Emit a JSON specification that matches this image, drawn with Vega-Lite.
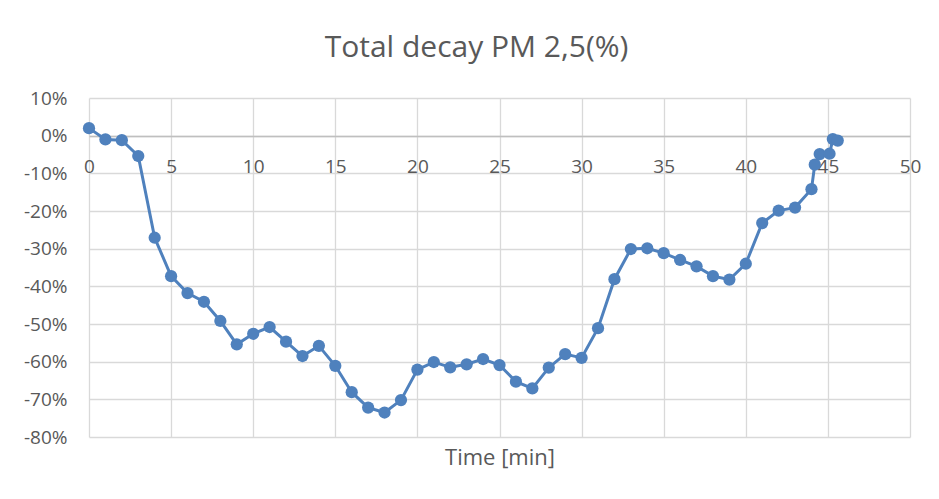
{
  "$schema": "https://vega.github.io/schema/vega-lite/v6.json",
  "width": 821,
  "height": 339,
  "autosize": {"type": "none"},
  "padding": {"left": 89, "top": 98, "right": 29, "bottom": 62},
  "background": "white",
  "title": {
    "text": "Total decay PM 2,5(%)",
    "font": "Open Sans",
    "fontSize": 30,
    "fontWeight": "normal",
    "color": "#595959",
    "anchor": "middle",
    "dx": -23,
    "offset": 26
  },
  "config": {
    "view": {"stroke": null},
    "font": "Open Sans"
  },
  "data": {
    "values": [
      {"t": 0, "v": 2.0}, {"t": 1, "v": -1.0}, {"t": 2, "v": -1.2}, {"t": 3, "v": -5.4},
      {"t": 4, "v": -27.1}, {"t": 5, "v": -37.3}, {"t": 6, "v": -41.8}, {"t": 7, "v": -44.1},
      {"t": 8, "v": -49.2}, {"t": 9, "v": -55.4}, {"t": 10, "v": -52.6}, {"t": 11, "v": -50.8},
      {"t": 12, "v": -54.7}, {"t": 13, "v": -58.5}, {"t": 14, "v": -55.8}, {"t": 15, "v": -61.1},
      {"t": 16, "v": -68.1}, {"t": 17, "v": -72.2}, {"t": 18, "v": -73.5}, {"t": 19, "v": -70.2},
      {"t": 20, "v": -62.1}, {"t": 21, "v": -60.1}, {"t": 22, "v": -61.5}, {"t": 23, "v": -60.7},
      {"t": 24, "v": -59.3}, {"t": 25, "v": -60.9}, {"t": 26, "v": -65.3}, {"t": 27, "v": -67.1},
      {"t": 28, "v": -61.6}, {"t": 29, "v": -58.0}, {"t": 30, "v": -59.0}, {"t": 31, "v": -51.1},
      {"t": 32, "v": -38.1}, {"t": 33, "v": -30.1}, {"t": 34, "v": -29.9}, {"t": 35, "v": -31.2},
      {"t": 36, "v": -33.0}, {"t": 37, "v": -34.7}, {"t": 38, "v": -37.3}, {"t": 39, "v": -38.2},
      {"t": 40, "v": -34.0}, {"t": 41, "v": -23.2}, {"t": 42, "v": -19.9}, {"t": 43, "v": -19.1},
      {"t": 44, "v": -14.2}, {"t": 44.2, "v": -7.7}, {"t": 44.5, "v": -4.9}, {"t": 45.1, "v": -4.8},
      {"t": 45.3, "v": -0.9}, {"t": 45.6, "v": -1.3}
    ]
  },
  "mark": {
    "type": "line",
    "color": "#4f81bd",
    "strokeWidth": 3,
    "point": {"filled": true, "size": 150, "color": "#4f81bd"}
  },
  "encoding": {
    "x": {
      "field": "t",
      "type": "quantitative",
      "scale": {"domain": [0, 50], "nice": false, "zero": false},
      "axis": {
        "values": [0, 5, 10, 15, 20, 25, 30, 35, 40, 45, 50],
        "orient": "bottom",
        "offset": -301,
        "grid": true,
        "gridColor": "#d9d9d9",
        "gridWidth": 1.3,
        "domain": true,
        "domainColor": "#bfbfbf",
        "domainWidth": 1.3,
        "ticks": false,
        "labelPadding": 21,
        "labelFontSize": 19,
        "labelColor": "#595959",
        "labelFont": "Open Sans",
        "labelFlush": false,
        "title": "Time [min]",
        "titleFont": "Open Sans",
        "titleFontSize": 22,
        "titleFontWeight": "normal",
        "titleColor": "#595959",
        "titleY": 321,
        "titleBaseline": "middle"
      }
    },
    "y": {
      "field": "v",
      "type": "quantitative",
      "scale": {"domain": [-80, 10], "nice": false, "zero": false},
      "axis": {
        "values": [-80, -70, -60, -50, -40, -30, -20, -10, 0, 10],
        "labelExpr": "datum.value + '%'",
        "grid": true,
        "gridColor": "#d9d9d9",
        "gridWidth": 1.3,
        "domain": false,
        "ticks": false,
        "labelPadding": 22,
        "labelFontSize": 19,
        "labelColor": "#595959",
        "labelFont": "Open Sans",
        "title": null
      }
    }
  }
}
